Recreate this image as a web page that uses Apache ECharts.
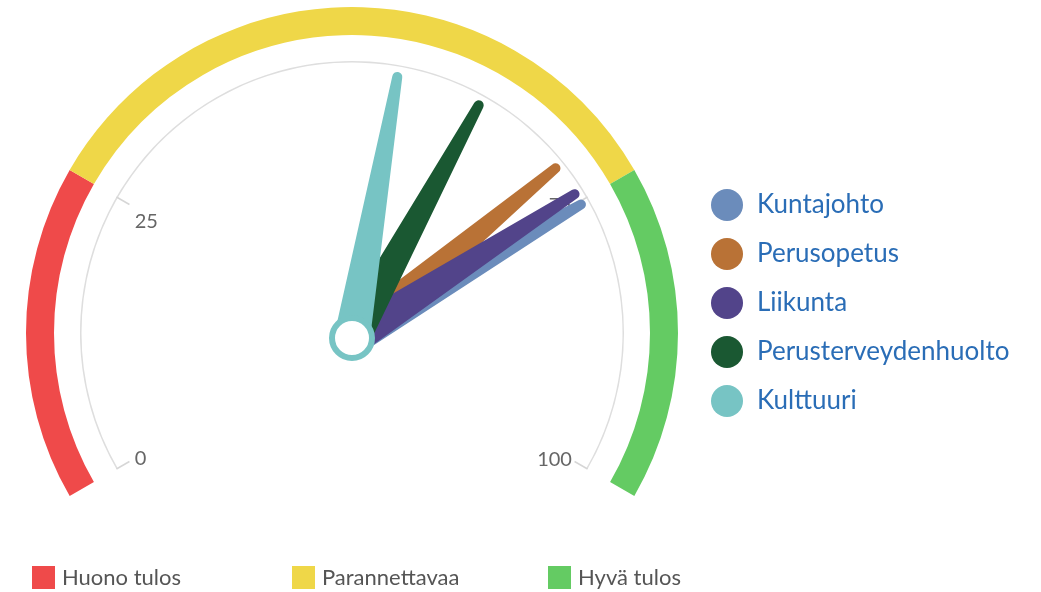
<!DOCTYPE html>
<html>
<head>
<meta charset="utf-8">
<script src="https://cdn.jsdelivr.net/npm/echarts@6/dist/echarts.min.js"></script>
<style>
  html, body { margin: 0; padding: 0; background: #fff; }
  #chart { width: 1041px; height: 592px; }
</style>
</head>
<body>
<div id="chart"></div>
<script>
// scale
const AXIS_MIN = 0;
const AXIS_MAX = 100;
const tickGroups = [[0, 25], [75, 100]];

// plot bands
const bandNames = ['Huono tulos', 'Parannettavaa', 'Hyvä tulos'];
const bandFrom = [0, 25, 75];
const bandTo = [25, 75, 100];
const bandColors = ['#ef4a4a', '#efd748', '#64cb63'];

// needles
const needleNames = ['Kuntajohto', 'Perusopetus', 'Liikunta', 'Perusterveydenhuolto', 'Kulttuuri'];
const needleValues = [74.9, 70.9, 73.8, 61.9, 54.1];
const needleColors = ['#6b8cbb', '#b97236', '#52448a', '#1a5832', '#77c4c4'];

const START = 210;
const END = -30;
const FONT = 'Lato, "Noto Sans", sans-serif';

// value -> angle on the dial
function ang(v) {
  return START - (v - AXIS_MIN) / (AXIS_MAX - AXIS_MIN) * (START - END);
}

const DIAL_CENTER = [352, 333];
const PIVOT_CENTER = [352, 338];
// tapered needle with a round tip (drawn 1:1 as width 36 x length 270)
const NEEDLE_PATH = 'path://M0,270 L13,5 A5,5 0 0 1 23,5 L36,270 Z';

const hidden = {
  axisLine: { show: false, lineStyle: { width: 0 } },
  splitLine: { show: false },
  axisTick: { show: false },
  axisLabel: { show: false },
  pointer: { show: false },
  anchor: { show: false },
  title: { show: false },
  detail: { show: false },
};

const series = [];

// colored bands
bandNames.forEach((name, i) => {
  series.push({
    ...hidden,
    name,
    type: 'gauge',
    center: DIAL_CENTER,
    radius: 326,
    min: bandFrom[i],
    max: bandTo[i],
    startAngle: ang(bandFrom[i]),
    endAngle: ang(bandTo[i]),
    itemStyle: { color: bandColors[i] },
    axisLine: { show: true, lineStyle: { width: 28, color: [[1, bandColors[i]]] } },
    silent: true,
    data: [],
  });
});

// thin gray axis arc
series.push({
  ...hidden,
  type: 'gauge',
  center: DIAL_CENTER,
  radius: 272,
  min: AXIS_MIN,
  max: AXIS_MAX,
  startAngle: START,
  endAngle: END,
  axisLine: { show: true, lineStyle: { width: 1.5, color: [[1, '#dedede']] } },
  silent: true,
  data: [],
});

// ticks + labels only at 0, 25, 75, 100
tickGroups.forEach(([a, b], i) => {
  series.push({
    ...hidden,
    type: 'gauge',
    center: DIAL_CENTER,
    radius: 272,
    min: a,
    max: b,
    splitNumber: 1,
    startAngle: ang(a),
    endAngle: ang(b),
    splitLine: { show: true, distance: 0, length: 15, lineStyle: { color: '#d6d6d6', width: 1.5 } },
    axisLabel: {
      show: true,
      distance: i === 0 ? 6 : 3,
      color: '#666',
      fontSize: 20,
      fontFamily: FONT,
      // the upper-left label sits a bit lower in the original
      formatter: (v) => (v === 25 ? '{low|' + v + '}' : String(v)),
      rich: { low: { color: '#666', fontSize: 20, fontFamily: FONT, padding: [28, 0, 0, 0] } },
    },
    silent: true,
    data: [],
  });
});

// needles
needleNames.forEach((name, i) => {
  const last = i === needleNames.length - 1;
  series.push({
    ...hidden,
    name,
    type: 'gauge',
    center: PIVOT_CENTER,
    radius: 272,
    min: AXIS_MIN,
    max: AXIS_MAX,
    startAngle: START,
    endAngle: END,
    itemStyle: { color: needleColors[i] },
    pointer: {
      show: true,
      icon: NEEDLE_PATH,
      length: 270,
      width: 36,
      keepAspect: false,
      itemStyle: { color: needleColors[i] },
    },
    anchor: last
      ? {
          show: true,
          showAbove: true,
          size: 40,
          itemStyle: { color: '#fff', borderColor: needleColors[i], borderWidth: 6 },
        }
      : { show: false },
    data: [{ value: needleValues[i], name }],
  });
});

const bandLegendLeft = [27, 287, 543];

const chart = echarts.init(document.getElementById('chart'), null, { renderer: 'canvas' });
chart.setOption({
  animation: false,
  backgroundColor: '#fff',
  legend: [
    {
      data: needleNames.map((n, i) => ({ name: n, itemStyle: { color: needleColors[i] } })),
      orient: 'vertical',
      left: 706,
      top: 184,
      icon: 'circle',
      itemWidth: 32,
      itemHeight: 32,
      itemGap: 17,
      textStyle: { color: '#2a6db6', fontSize: 26, fontFamily: FONT, padding: [0, 0, 0, 9] },
    },
    ...bandNames.map((n, i) => ({
      data: [{ name: n, itemStyle: { color: bandColors[i] } }],
      left: bandLegendLeft[i],
      top: 561,
      icon: 'rect',
      itemWidth: 23,
      itemHeight: 23,
      textStyle: { color: '#555', fontSize: 22, fontFamily: FONT, padding: [0, 0, 0, 2] },
    })),
  ],
  series,
});
</script>
</body>
</html>
